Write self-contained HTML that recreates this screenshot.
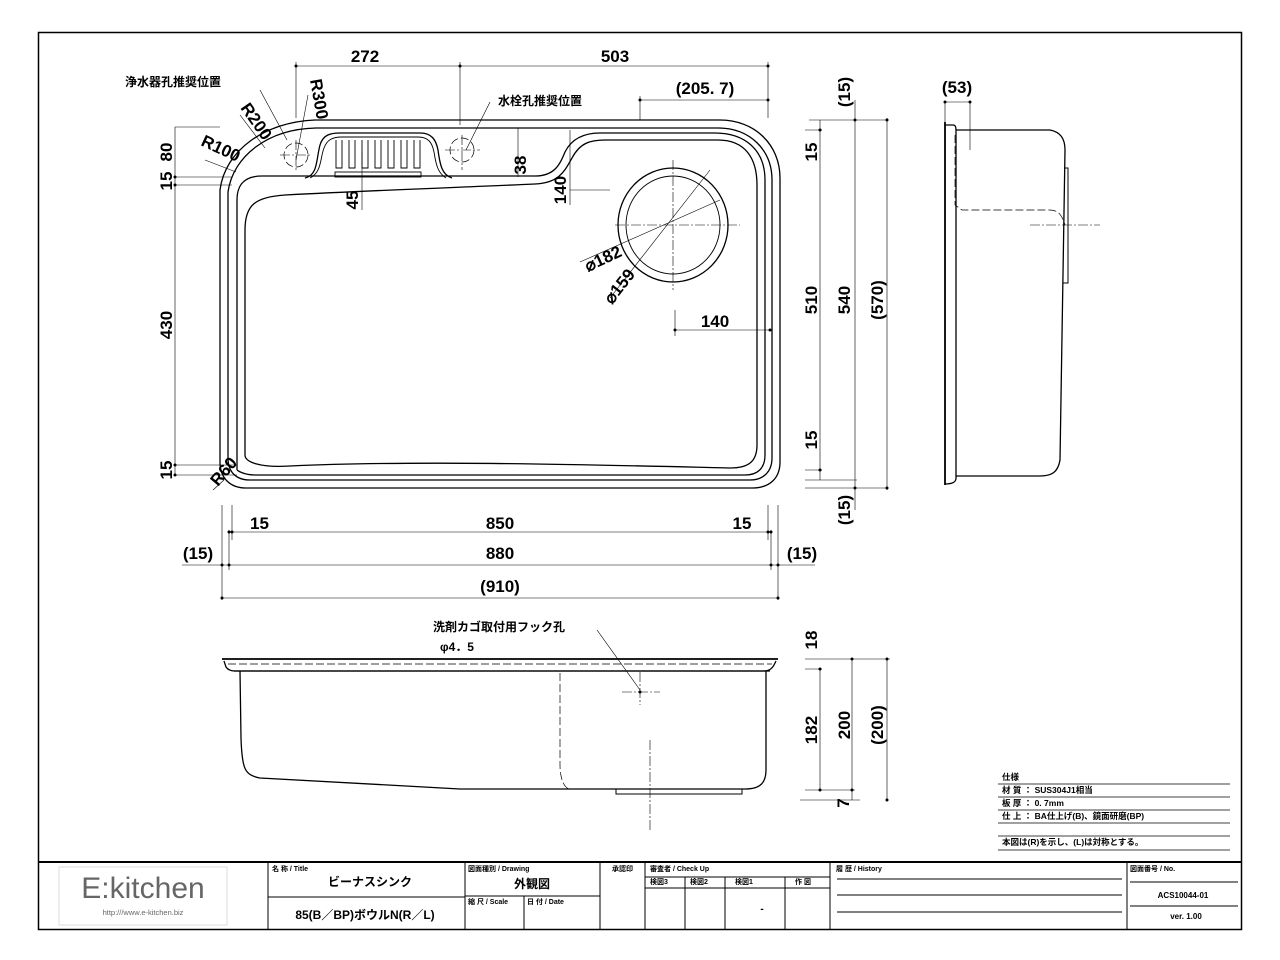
<!DOCTYPE html>
<html><head><meta charset="utf-8"><style>
html,body{margin:0;padding:0;background:#fff;}
svg{display:block;}
text{font-family:"Liberation Sans","Noto Sans CJK JP",sans-serif;fill:#000;}
.d{font-size:17px;font-weight:bold;font-family:"Liberation Sans Narrow","Liberation Sans","Noto Sans CJK JP",sans-serif;}
.s{font-size:7px;}
</style></head><body>
<svg width="1280" height="960" viewBox="0 0 1280 960" xmlns="http://www.w3.org/2000/svg">
<rect x="0" y="0" width="1280" height="960" fill="#fff"/>
<rect x="38.5" y="32.5" width="1203" height="897" fill="none" stroke="#000" stroke-width="1.5"/>
<line x1="38" y1="862" x2="1242" y2="862" stroke="#000" stroke-width="2"/>

<g fill="none" stroke="#000" stroke-width="1.3">
<path d="M220,190 C225,150 265,122 315,120 L720,120 C755,120 780,145 780,178 L780,462 C780,478 770,488 752,488 L246,488 C230,488 220,478 220,462 Z"/>
<path d="M228,192 C233,156 268,129 316,128 L718,128 C750,128 772,150 772,180 L772,458 C772,472 763,480 750,480 L250,480 C236,480 228,472 228,458 Z"/>
<path d="M237,470 L237,200 C237,184 245,176 262,176 L535,176 C555,176 560,164 565,152 C572,138 585,133 600,133 L715,133 C745,133 765,150 765,180 L765,455 C765,468 758,475 745,475 L255,475 C243,475 237,470 237,470"/>
<path d="M245,455 L245,230 C245,205 255,197 285,195 C380,190 470,187 535,184 C560,183 565,170 572,158 C580,143 590,140 605,140 L718,140 C745,140 757,158 757,185 L757,445 C757,462 748,468 730,468 C600,465 420,460 290,466 C260,468 245,462 245,455 Z"/>
<ellipse cx="673" cy="225" rx="55" ry="57"/>
<ellipse cx="673" cy="225" rx="47" ry="49" stroke-width="0.9"/>
<path d="M305,178 C318,175 316,160 320,145 C323,135 330,133 340,133 L420,133 C432,133 436,140 438,150 C440,165 442,175 452,178"/>
<path d="M310,178 C322,172 320,158 324,148 C327,140 332,137 342,137 L418,137 C428,137 432,142 434,152 C436,165 438,173 446,178" stroke-width="0.9"/>
<g stroke-width="0.9">
<path d="M336,140 v28 h6 v-28"/><path d="M349,140 v28 h6 v-28"/><path d="M362,140 v28 h6 v-28"/><path d="M375,140 v28 h6 v-28"/><path d="M388,140 v28 h6 v-28"/><path d="M401,140 v28 h6 v-28"/><path d="M414,140 v28 h6 v-28"/>
<rect x="335" y="172" width="86" height="5"/>
</g>
<path d="M945,122 L945,485" stroke-width="1.8"/>
<path d="M945,125 L953,125 C956,125 956,128 956,132 L956,478 C956,482 953,484 945,484"/>
<path d="M956,130 L1050,130 C1060,132 1065,138 1065,150 L1060,460 C1058,472 1052,476 1040,476 L956,476"/>
<path d="M1065,168 L1068,168 L1068,283 L1063,283" stroke-width="1"/>
<path d="M222,659 L778,659" stroke-width="1.8"/>
<path d="M224,661 L226,667 C228,670 232,671 235,671 L764,671 C768,671 772,669 774,665 L776,661"/>
<path d="M234,671 L770,671"/>
<path d="M240,671 L241,738 C242,770 245,775 260,778 L460,789 L745,789 C760,789 766,783 766,770 L766,671"/>
<path d="M616,789 L616,794 L742,794 L742,789" stroke-width="1"/>
</g>
<g fill="none" stroke="#000" stroke-width="0.7" stroke-dasharray="8,3">
<circle cx="296" cy="155" r="12"/>
<circle cx="462" cy="150" r="12"/>
<path d="M955,135 L955,205 L962,210 L1050,210 C1058,210 1062,215 1065,225"/>
<path d="M228,664 L772,664"/>
<path d="M560,673 L560,765 C560,780 565,789 570,789"/>
</g>
<g stroke="#000" stroke-width="0.6" fill="none">
<path d="M296,66 H768 M296,62 V118 M460,62 V125 M768,62 V118"/>
<path d="M640,100 H768 M640,96 V120"/>
<path d="M175,127 V475 M175,127 H220 M175,177 H232 M175,185 H232 M175,465 H237 M175,475 H237"/>
<path d="M362,152 V210 M518,128 V177 M570,130 V205 M570,190 H610"/>
<path d="M809,120 H888 M805,130 H822 M805,470 H822 M805,480 H857 M805,488 H888"/>
<path d="M820,120 V480 M855,118 V490 M887,118 V490 M855,100 V120 M855,488 V510"/>
<path d="M232,505 V540 M222,505 V600 M778,505 V600 M768,505 V540 M229,530 V570 M771,530 V570"/>
<path d="M229,532 H771 M182,565 H815 M222,598 H778"/>
<path d="M945,102 V125 M970,102 H945 M970,102 V150"/>
<path d="M805,659 H890 M820,669 V790 M852,659 V800 M887,659 V800 M822,669 H805 M805,790 H855 M800,800 H860"/>
<path d="M675,330 H770 M675,310 V336"/>
<path d="M580,262 L720,200 M610,298 L710,170"/>
<path d="M260,90 L287,140 M308,95 L296,160 M597,630 L640,690 M490,102 L466,150"/>
<path d="M224,480 L213,490 M236,172 L205,160 M265,148 L240,115"/>
</g>
<g stroke="#000" stroke-width="0.6" stroke-dasharray="10,2,2,2" fill="none">
<path d="M280,155 H312 M296,140 V170 M445,150 H480 M462,135 V170"/>
<path d="M615,225 H740 M673,160 V290"/>
<path d="M1030,225 H1100 M640,672 V705 M622,692 H660 M650,740 V830"/>
</g>
<g fill="#000">
<circle cx="296" cy="66" r="1.5"/><circle cx="460" cy="66" r="1.5"/><circle cx="768" cy="66" r="1.5"/>
<circle cx="640" cy="100" r="1.5"/><circle cx="768" cy="100" r="1.5"/>
<circle cx="175" cy="177" r="1.5"/><circle cx="175" cy="185" r="1.5"/><circle cx="175" cy="465" r="1.5"/><circle cx="175" cy="475" r="1.5"/>
<circle cx="229" cy="532" r="1.5"/><circle cx="232" cy="532" r="1.5"/><circle cx="768" cy="532" r="1.5"/><circle cx="771" cy="532" r="1.5"/>
<circle cx="222" cy="565" r="1.5"/><circle cx="229" cy="565" r="1.5"/><circle cx="771" cy="565" r="1.5"/><circle cx="778" cy="565" r="1.5"/>
<circle cx="222" cy="598" r="1.5"/><circle cx="778" cy="598" r="1.5"/>
<circle cx="820" cy="130" r="1.5"/><circle cx="820" cy="470" r="1.5"/><circle cx="855" cy="120" r="1.5"/><circle cx="855" cy="488" r="1.5"/><circle cx="887" cy="120" r="1.5"/><circle cx="887" cy="488" r="1.5"/>
<circle cx="945" cy="102" r="1.5"/><circle cx="970" cy="102" r="1.5"/>
<circle cx="820" cy="669" r="1.5"/><circle cx="820" cy="790" r="1.5"/><circle cx="852" cy="659" r="1.5"/><circle cx="852" cy="790" r="1.5"/><circle cx="887" cy="659" r="1.5"/><circle cx="887" cy="800" r="1.5"/>
<circle cx="675" cy="330" r="1.5"/><circle cx="770" cy="330" r="1.5"/><circle cx="640" cy="692" r="1.5"/>
</g>
<g class="d">
<text x="365" y="62" text-anchor="middle">272</text>
<text x="615" y="62" text-anchor="middle">503</text>
<text x="705" y="94" text-anchor="middle">(205. 7)</text>
<text x="715" y="327" text-anchor="middle">140</text>
<text x="250" y="529">15</text>
<text x="500" y="529" text-anchor="middle">850</text>
<text x="742" y="529" text-anchor="middle">15</text>
<text x="198" y="559" text-anchor="middle">(15)</text>
<text x="500" y="559" text-anchor="middle">880</text>
<text x="802" y="559" text-anchor="middle">(15)</text>
<text x="500" y="592" text-anchor="middle">(910)</text>
<text x="957" y="93" text-anchor="middle">(53)</text>
<text transform="translate(172,152) rotate(-90)" text-anchor="middle">80</text>
<text transform="translate(172,181) rotate(-90)" text-anchor="middle">15</text>
<text transform="translate(172,325) rotate(-90)" text-anchor="middle">430</text>
<text transform="translate(172,470) rotate(-90)" text-anchor="middle">15</text>
<text transform="translate(358,200) rotate(-90)" text-anchor="middle">45</text>
<text transform="translate(526,165) rotate(-90)" text-anchor="middle">38</text>
<text transform="translate(566,190) rotate(-90)" text-anchor="middle">140</text>
<text transform="translate(817,152) rotate(-90)" text-anchor="middle">15</text>
<text transform="translate(817,300) rotate(-90)" text-anchor="middle">510</text>
<text transform="translate(850,300) rotate(-90)" text-anchor="middle">540</text>
<text transform="translate(883,300) rotate(-90)" text-anchor="middle">(570)</text>
<text transform="translate(817,440) rotate(-90)" text-anchor="middle">15</text>
<text transform="translate(850,92) rotate(-90)" text-anchor="middle">(15)</text>
<text transform="translate(850,510) rotate(-90)" text-anchor="middle">(15)</text>
<text transform="translate(817,640) rotate(-90)" text-anchor="middle">18</text>
<text transform="translate(817,730) rotate(-90)" text-anchor="middle">182</text>
<text transform="translate(850,725) rotate(-90)" text-anchor="middle">200</text>
<text transform="translate(883,725) rotate(-90)" text-anchor="middle">(200)</text>
<text transform="translate(849,803) rotate(-90)" text-anchor="middle">7</text>
<text transform="translate(200,145) rotate(25)">R100</text>
<text transform="translate(240,108) rotate(55)">R200</text>
<text transform="translate(310,80) rotate(80)">R300</text>
<text transform="translate(218,487) rotate(-50)">R60</text>
<text transform="translate(588,272) rotate(-25)">⌀182</text>
<text transform="translate(612,305) rotate(-52)">⌀159</text>
</g>
<g font-size="12" font-weight="bold">
<text x="125" y="86">浄水器孔推奨位置</text>
<text x="498" y="105">水栓孔推奨位置</text>
<text x="433" y="631">洗剤カゴ取付用フック孔</text>
<text x="440" y="651">φ4．5</text>
</g>
<g font-size="8.5" font-weight="bold">
<text x="1002" y="780">仕様</text>
<text x="1002" y="793">材 質 ： SUS304J1相当</text>
<text x="1002" y="806">板 厚 ： 0. 7mm</text>
<text x="1002" y="819">仕 上 ： BA仕上げ(B)、鏡面研磨(BP)</text>
<text x="1002" y="845">本図は(R)を示し、(L)は対称とする。</text>
</g>
<g stroke="#000" stroke-width="0.8">
<line x1="998" y1="784" x2="1230" y2="784"/><line x1="998" y1="797" x2="1230" y2="797"/>
<line x1="998" y1="810" x2="1230" y2="810"/><line x1="998" y1="823" x2="1230" y2="823"/>
<line x1="998" y1="836" x2="1230" y2="836"/><line x1="998" y1="850" x2="1230" y2="850"/>
</g>
<g stroke="#000" stroke-width="1" fill="none">
<line x1="268" y1="862" x2="268" y2="930"/><line x1="465" y1="862" x2="465" y2="930"/>
<line x1="600" y1="862" x2="600" y2="930"/><line x1="645" y1="862" x2="645" y2="930"/>
<line x1="830" y1="862" x2="830" y2="930"/><line x1="1127" y1="862" x2="1127" y2="930"/>
<line x1="268" y1="897" x2="465" y2="897"/><line x1="465" y1="896" x2="600" y2="896"/>
<line x1="524" y1="896" x2="524" y2="930"/>
<line x1="645" y1="877" x2="830" y2="877"/><line x1="645" y1="888" x2="830" y2="888"/>
<line x1="685" y1="877" x2="685" y2="930"/><line x1="725" y1="877" x2="725" y2="930"/><line x1="785" y1="877" x2="785" y2="930"/>
<line x1="837" y1="879" x2="1122" y2="879"/><line x1="837" y1="895" x2="1122" y2="895"/><line x1="837" y1="912" x2="1122" y2="912"/>
<line x1="1130" y1="882" x2="1238" y2="882"/><line x1="1130" y1="906" x2="1238" y2="906"/>
<rect x="59" y="867" width="168" height="58" stroke="#ddd"/>
</g>
<text x="143" y="898" font-size="30" text-anchor="middle" style="fill:#666">E:kitchen</text>
<text x="143" y="915" font-size="7.5" text-anchor="middle" style="fill:#666">http:///www.e-kitchen.biz</text>
<g class="s" font-weight="bold">
<text x="272" y="871">名 称 / Title</text><text x="468" y="871">図面種別 / Drawing</text>
<text x="468" y="904">縮 尺 / Scale</text><text x="527" y="904">日 付 / Date</text>
<text x="612" y="871">承認印</text><text x="650" y="871">審査者 / Check Up</text>
<text x="650" y="884">検図3</text><text x="690" y="884">検図2</text><text x="735" y="884">検図1</text><text x="795" y="884">作 図</text>
<text x="836" y="871">履 歴 / History</text><text x="1130" y="871">図面番号 / No.</text>
</g>
<g font-weight="bold">
<text x="370" y="886" font-size="12" text-anchor="middle">ビーナスシンク</text>
<text x="532" y="888" font-size="12" text-anchor="middle">外観図</text>
<text x="365" y="919" font-size="12" text-anchor="middle">85(B／BP)ボウルN(R／L)</text>
<text x="762" y="912" font-size="10" text-anchor="middle">-</text>
<text x="1183" y="898" font-size="8" text-anchor="middle">ACS10044-01</text>
<text x="1186" y="919" font-size="8" text-anchor="middle">ver. 1.00</text>
</g>
</svg>
</body></html>
